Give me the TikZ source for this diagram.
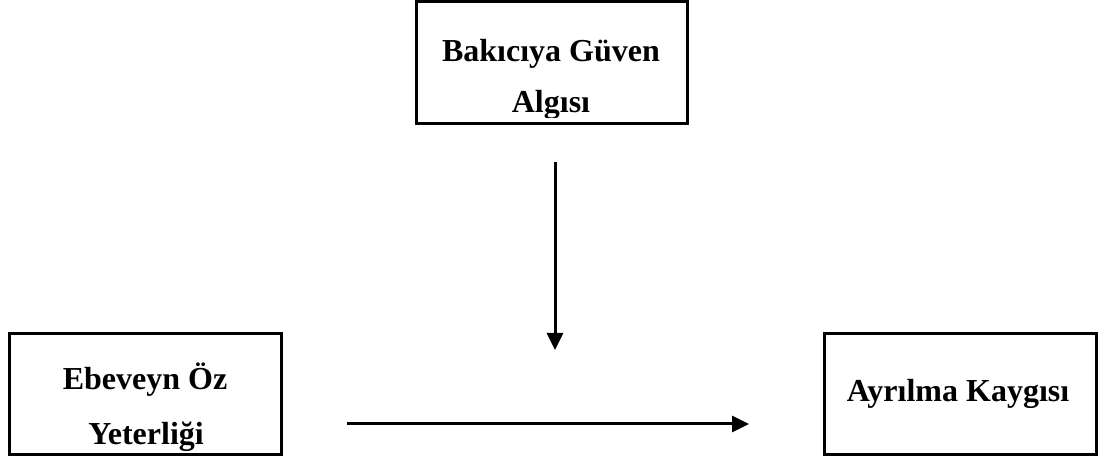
\documentclass[tikz,border=0pt]{standalone}
\usepackage{fontspec}
\setmainfont{Liberation Serif}
\usetikzlibrary{arrows.meta}
\tikzset{
  boxline/.style={draw=black, line width=3pt},
  lbl/.style={font=\fontsize{32}{36}\selectfont\bfseries, inner sep=0pt, anchor=base},
  conn/.style={draw=black, line width=3pt, -{Triangle[length=17pt,width=16pt]}}
}
\begin{document}
\begin{tikzpicture}[x=1pt,y=1pt]
\useasboundingbox (0,0) rectangle (1104,460);
% top box
\begin{scope}
\clip (416,342) rectangle (687.5,458.7);
\node[lbl] (t1) at (551,398) {Bakıcıya Güven};
\node[lbl] (t2) at (551,347) {Algısı};
\end{scope}
\draw[boxline] (416,336) rectangle (687.5,458.7);
% left box
\begin{scope}
\clip (9,8) rectangle (281,126.5);
\node[lbl] (l1) at (145,70) {Ebeveyn Öz};
\node[lbl] (l2) at (146,15) {Yeterliği};
\end{scope}
\draw[boxline] (9,5) rectangle (281,126.5);
% right box
\draw[boxline] (824.5,5) rectangle (1096.5,126.5);
\node[lbl] (r1) at (958,58) {Ayrılma Kaygısı};
% connectors
\coordinate (vs) at (555,298);
\coordinate (ve) at (555,110);
\coordinate (hs) at (347,36);
\coordinate (he) at (749,36);
\draw[conn] (vs) -- (ve);
\draw[conn] (hs) -- (he);
\end{tikzpicture}
\end{document}
